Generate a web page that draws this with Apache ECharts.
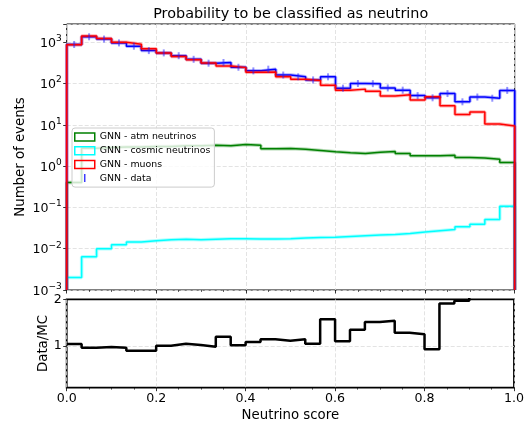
<!DOCTYPE html>
<html>
<head>
<meta charset="utf-8">
<script src="https://cdn.jsdelivr.net/npm/echarts@6/dist/echarts.min.js"></script>
<style>
html, body { margin: 0; padding: 0; background: #fff; }
#box { width: 527px; height: 423px; }
</style>
</head>
<body>
<div id="box"></div>
<script>
// 30 bins between 0 and 1
var nBins = 30;
var binEdges = [];
for (var i = 0; i <= nBins; i++) binEdges.push(i / nBins);

var atmNu = [0.40, 2.7, 2.8, 2.9, 2.9, 3.0, 3.0, 3.1, 3.1, 3.2, 3.1, 3.35, 3.2, 2.63, 2.68,
             2.55, 2.4, 2.21, 2.09, 2.01, 2.17, 2.25, 2.01, 1.77, 1.77, 1.84, 1.61, 1.56, 1.47, 1.22];
var cosmicNu = [0.0020, 0.0064, 0.0100, 0.0125, 0.0145, 0.0156, 0.0165, 0.0170, 0.0165, 0.0170,
                0.0175, 0.0175, 0.0172, 0.0172, 0.0175, 0.0181, 0.0186, 0.0190, 0.0198, 0.0206,
                0.0214, 0.0221, 0.0234, 0.0252, 0.0272, 0.0290, 0.0339, 0.0390, 0.0510, 0.107];
var muons = [861, 1416, 1222, 1000, 895, 690, 545, 452, 376, 313, 265, 242, 188, 190, 145,
             126, 118, 91, 69, 73, 65, 50, 53, 40, 48, 29, 17.7, 20.5, 10.5, 9.4];
var data = [880, 1350, 1190, 960, 800, 625, 550, 470, 385, 310, 322, 247, 202, 222, 160,
            145, 122, 145, 77, 100, 99, 78, 69, 51, 45, 57, 36, 47, 44, 68];
var ratio = [1.04, 0.96, 0.975, 0.96, 0.895, 0.895, 1.003, 1.045, 1.017, 0.98, 1.196, 1.01, 1.08, 1.14, 1.11,
             1.14, 1.045, 1.57, 1.096, 1.347, 1.51, 1.54, 1.28, 1.25, 0.925, 1.91, 1.97, 2.1, 3.6, 6.2];

var yTop = Math.pow(10, 3.44);
var yFloor = 0.001;
var FONT = 'DejaVu Sans';

// histogram outline, matplotlib "step" style
function stepLine(vals, floor) {
    var pts = [];
    if (floor != null) pts.push([0, floor]);
    for (var i = 0; i < vals.length; i++) pts.push([binEdges[i], vals[i]]);
    pts.push([1, vals[vals.length - 1]]);
    if (floor != null) pts.push([1, floor]);
    return pts;
}
function centers(vals) {
    return vals.map(function (v, i) { return [(binEdges[i] + binEdges[i + 1]) / 2, v]; });
}

function histSeries(name, vals, color, floor, xi, yi, width, z) {
    return [{
        name: name + ' halo', type: 'line', step: 'end', xAxisIndex: xi, yAxisIndex: yi,
        data: stepLine(vals, floor), showSymbol: false, symbol: 'none', silent: true, z: z,
        lineStyle: { color: color, width: width + 2, opacity: 0.3 }
    }, {
        name: name, type: 'line', step: 'end', xAxisIndex: xi, yAxisIndex: yi,
        data: stepLine(vals, floor), showSymbol: false, symbol: 'none', z: z + 1,
        itemStyle: { color: color },
        lineStyle: { color: color, width: width }
    }];
}

var gridLine = { show: true, lineStyle: { color: '#dcdcdc', width: 0.8, type: [4, 2] } };
var tickStyle = { show: true, length: 3.5, lineStyle: { color: '#000', width: 0.8 } };
var minorStyle = { show: true, splitNumber: 4, length: 2, lineStyle: { color: '#000', width: 0.6 } };

var myChart = echarts.init(document.getElementById('box'));
var option = {
    animation: false,
    title: {
        text: 'Probability to be classified as neutrino',
        left: 290.7, top: 7, padding: 0,
        textAlign: 'center', textVerticalAlign: 'top',
        textStyle: { fontFamily: FONT, fontSize: 14.4, fontWeight: 'normal', color: '#000' }
    },
    legend: {
        orient: 'vertical', left: 72, top: 128,
        itemWidth: 20, itemHeight: 8, itemGap: 1.7,
        padding: [3, 4, 3, 2],
        backgroundColor: 'rgba(255,255,255,0.8)',
        borderColor: '#cccccc', borderWidth: 1, borderRadius: 3,
        textStyle: { fontFamily: FONT, fontSize: 9.4, color: '#000', lineHeight: 12 },
        data: [
            { name: 'GNN - atm neutrinos', icon: 'rect', itemStyle: { color: 'rgba(0,0,0,0)', borderColor: '#008000', borderWidth: 1.5 } },
            { name: 'GNN - cosmic neutrinos', icon: 'rect', itemStyle: { color: 'rgba(0,0,0,0)', borderColor: '#00ffff', borderWidth: 1.5 } },
            { name: 'GNN - muons', icon: 'rect', itemStyle: { color: 'rgba(0,0,0,0)', borderColor: '#ff0000', borderWidth: 1.5 } },
            { name: 'GNN - data', icon: 'path://M0,0h1.6v9h-1.6z', itemStyle: { color: '#0000ff', borderWidth: 0 } }
        ]
    },
    grid: [
        { left: 66.7, top: 24, width: 448, height: 266, show: true, borderColor: '#000', borderWidth: 1, backgroundColor: '#fff' },
        { left: 66.7, top: 299.3, width: 448, height: 88.4, show: true, borderColor: '#000', borderWidth: 1.8, backgroundColor: '#fff' }
    ],
    xAxis: [
        {
            type: 'value', gridIndex: 0, min: 0, max: 1, interval: 0.2,
            axisLine: { show: false }, axisTick: tickStyle, minorTick: minorStyle,
            axisLabel: { show: false }, splitLine: gridLine
        },
        {
            type: 'value', gridIndex: 1, min: 0, max: 1, interval: 0.2,
            axisLine: { show: false }, axisTick: tickStyle, minorTick: minorStyle,
            axisLabel: {
                fontFamily: FONT, fontSize: 12.6, color: '#000', margin: 5,
                formatter: function (v) { return v.toFixed(1); }
            },
            splitLine: gridLine,
            name: 'Neutrino score', nameLocation: 'middle', nameGap: 21, nameMoveOverlap: false,
            nameTextStyle: { fontFamily: FONT, fontSize: 13.3, color: '#000' }
        }
    ],
    yAxis: [
        {
            type: 'log', gridIndex: 0, logBase: 10, min: yFloor, max: yTop, splitNumber: 7,
            axisLine: { show: false }, axisTick: tickStyle,
            splitLine: gridLine,
            axisLabel: {
                margin: 5, color: '#000',
                formatter: function (v) {
                    var e = Math.log10(v);
                    if (Math.abs(e - Math.round(e)) > 1e-6) return '';
                    e = Math.round(e);
                    return '{b|10}{s|' + (e < 0 ? '\u2212' + (-e) : e) + '}';
                },
                rich: {
                    b: { fontFamily: FONT, fontSize: 12.6, color: '#000', lineHeight: 16, verticalAlign: 'bottom' },
                    s: { fontFamily: FONT, fontSize: 9, color: '#000', lineHeight: 10, verticalAlign: 'top' }
                }
            },
            name: 'Number of events', nameLocation: 'middle', nameGap: 40, nameMoveOverlap: false,
            nameTextStyle: { fontFamily: FONT, fontSize: 13.3, color: '#000' }
        },
        {
            type: 'value', gridIndex: 1, min: 0.1, max: 2,
            axisLine: { show: false },
            axisTick: { show: true, length: 3.5, lineStyle: { color: '#000', width: 0.8 }, customValues: [1, 2] },
            splitLine: { show: false },
            axisLabel: { fontFamily: FONT, fontSize: 12.6, color: '#000', margin: 5, customValues: [1, 2] },
            name: 'Data/MC', nameLocation: 'middle', nameGap: 17, nameMoveOverlap: false,
            nameTextStyle: { fontFamily: FONT, fontSize: 13.3, color: '#000' }
        }
    ],
    series: [].concat(
        histSeries('GNN - atm neutrinos', atmNu, '#008000', yFloor, 0, 0, 1.5, 2),
        histSeries('GNN - cosmic neutrinos', cosmicNu, '#00ffff', yFloor, 0, 0, 1.5, 4),
        histSeries('data step', data, '#0000ff', yFloor, 0, 0, 1.5, 6),
        histSeries('GNN - muons', muons, '#ff0000', yFloor, 0, 0, 1.5, 8),
        [{
            name: 'GNN - data', type: 'scatter', xAxisIndex: 0, yAxisIndex: 0,
            data: centers(data), symbol: 'rect', symbolSize: [2, 7], z: 12,
            itemStyle: { color: 'rgba(30,30,255,0.6)' }
        }, {
            name: 'Data/MC', type: 'line', step: 'end', xAxisIndex: 1, yAxisIndex: 1,
            data: stepLine(ratio, null), showSymbol: false, symbol: 'none', z: 5,
            lineStyle: { color: '#000', width: 2.5 },
            markLine: {
                silent: true, symbol: 'none', label: { show: false },
                lineStyle: { color: '#dcdcdc', width: 0.8, type: [4, 2] },
                data: [{ yAxis: 1 }]
            }
        }]
    )
};
myChart.setOption(option);
</script>
</body>
</html>
